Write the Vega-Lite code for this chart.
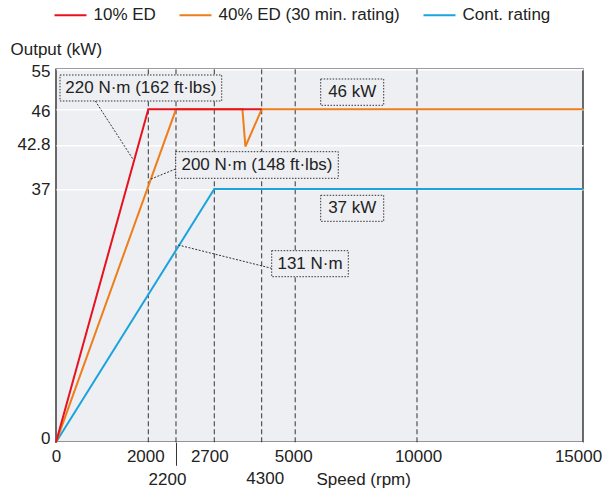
{
  "$schema": "https://vega.github.io/schema/vega-lite/v6.json",
  "autosize": {"type": "none"},
  "padding": {"left": 56, "top": 69.3, "right": 24.7, "bottom": 47.7},
  "width": 527,
  "height": 373,
  "background": "white",
  "config": {
    "view": {"fill": "#eeeff3", "stroke": "#3a3a3a", "strokeWidth": 1.5},
    "font": "Liberation Sans",
    "text": {"font": "Liberation Sans"}
  },
  "datasets": {
    "curves": [
      {"series": "Cont. rating", "speed": 0, "kw": 0, "ord": 1},
      {"series": "Cont. rating", "speed": 2700, "kw": 37, "ord": 2},
      {"series": "Cont. rating", "speed": 15000, "kw": 37, "ord": 3},
      {"series": "40% ED (30 min. rating)", "speed": 0, "kw": 0, "ord": 1},
      {"series": "40% ED (30 min. rating)", "speed": 2200, "kw": 46, "ord": 2},
      {"series": "40% ED (30 min. rating)", "speed": 3650, "kw": 46, "ord": 3},
      {"series": "40% ED (30 min. rating)", "speed": 3750, "kw": 42.6, "ord": 4},
      {"series": "40% ED (30 min. rating)", "speed": 4300, "kw": 46, "ord": 5},
      {"series": "40% ED (30 min. rating)", "speed": 15000, "kw": 46, "ord": 6},
      {"series": "10% ED", "speed": 0, "kw": 0, "ord": 1},
      {"series": "10% ED", "speed": 2000, "kw": 46, "ord": 2},
      {"series": "10% ED", "speed": 4300, "kw": 46, "ord": 3}
    ],
    "vlines": [
      {"speed": 2000}, {"speed": 2200}, {"speed": 2700}, {"speed": 4300}, {"speed": 5000}, {"speed": 10000}
    ],
    "boxes": [
      {"label": "220 N·m (162 ft·lbs)", "x1": 87, "x2": 2950, "y1": 53.72, "y2": 47.87, "xc": 1839, "yc": 50.8},
      {"label": "200 N·m (148 ft·lbs)", "x1": 2198, "x2": 6769, "y1": 41.92, "y2": 38.41, "xc": 4141, "yc": 40.16},
      {"label": "46 kW", "x1": 6047, "x2": 8633, "y1": 52.82, "y2": 46.9, "xc": 7340, "yc": 49.86},
      {"label": "37 kW", "x1": 6047, "x2": 8633, "y1": 36.08, "y2": 32.28, "xc": 7340, "yc": 34.18},
      {"label": "131 N·m", "x1": 4509, "x2": 7180, "y1": 27.99, "y2": 24.19, "xc": 5608, "yc": 26.09}
    ],
    "leaders": [
      {"id": "a", "speed": 852, "kw": 47.87},
      {"id": "a", "speed": 1669, "kw": 40.92},
      {"id": "b", "speed": 2198, "kw": 39.64},
      {"id": "b", "speed": 2019, "kw": 38.32},
      {"id": "c", "speed": 4509, "kw": 25.41},
      {"id": "c", "speed": 2230, "kw": 28.82}
    ]
  },
  "encoding": {
    "x": {
      "type": "quantitative",
      "scale": {
        "domain": [0, 2000, 2200, 2700, 4300, 5000, 10000, 15000],
        "range": [0, 92.3, 120, 158.3, 205.7, 239.2, 361, 527],
        "nice": false, "zero": false
      },
      "axis": {
        "values": [0, 2000, 2200, 2700, 4300, 5000, 10000, 15000],
        "title": "Speed (rpm)",
        "titleFont": "Liberation Sans", "titleFontSize": 17, "titleFontWeight": "normal", "titleColor": "#222",
        "titleAlign": "left", "titleBaseline": "middle", "titleX": 260, "titleY": 37, "titleAnchor": null,
        "labelFont": "Liberation Sans", "labelFontSize": 17, "labelColor": "#222",
        "labelExpr": "datum.value == 4300 ? ['', '' + datum.value] : '' + datum.value",
        "labelLineHeight": 22,
        "labelBaseline": "top",
        "labelPadding": 6,
        "labelOverlap": false,
        "labelFlush": false,
        "labelOffset": {
          "condition": [
            {"test": "datum.value == 2000", "value": -3},
            {"test": "datum.value == 2200", "value": -9},
            {"test": "datum.value == 2700", "value": -5},
            {"test": "datum.value == 4300", "value": 3},
            {"test": "datum.value == 5000", "value": -2},
            {"test": "datum.value == 10000", "value": 1},
            {"test": "datum.value == 15000", "value": -5}
          ],
          "value": 0
        },
        "domain": false, "grid": false,
        "ticks": true,
        "tickColor": "#333",
        "tickWidth": 1,
        "tickSize": {"condition": {"test": "datum.value == 2200", "value": 23}, "value": 0}
      }
    },
    "y": {
      "type": "quantitative",
      "scale": {
        "domain": [0, 37, 42.8, 46, 55],
        "range": [373, 119.7, 75.7, 40, 0],
        "nice": false, "zero": false
      },
      "axis": {
        "values": [0, 37, 42.8, 46, 55],
        "title": "Output (kW)",
        "titleFont": "Liberation Sans", "titleFontSize": 17, "titleFontWeight": "normal", "titleColor": "#222",
        "titleAngle": 0, "titleAlign": "left", "titleBaseline": "middle", "titleX": -46, "titleY": -19.5, "titleAnchor": null,
        "labelFont": "Liberation Sans", "labelFontSize": 17, "labelColor": "#222",
        "labelExpr": "'' + datum.value",
        "labelPadding": 6,
        "labelOverlap": false,
        "labelFlush": false,
        "labelOffset": {
          "condition": [
            {"test": "datum.value == 0", "value": -4},
            {"test": "datum.value == 55", "value": 2},
            {"test": "datum.value == 46", "value": 2},
            {"test": "datum.value == 42.8", "value": -1}
          ],
          "value": 0
        },
        "domain": false, "ticks": false,
        "grid": true, "gridColor": "#ffffff", "gridWidth": 1.5, "gridOpacity": 1
      }
    }
  },
  "layer": [
    {
      "data": {"name": "vlines"},
      "mark": {"type": "rule", "color": "#333", "strokeWidth": 1, "strokeDash": [5, 3]},
      "encoding": {"x": {"field": "speed"}, "y": null}
    },
    {
      "data": {"name": "curves"},
      "transform": [{"filter": "datum.series == 'Cont. rating'"}],
      "mark": {"type": "line", "strokeWidth": 2},
      "encoding": {
        "x": {"field": "speed"},
        "y": {"field": "kw"},
        "order": {"field": "ord", "type": "quantitative"},
        "color": {
          "field": "series", "type": "nominal",
          "scale": {"domain": ["10% ED", "40% ED (30 min. rating)", "Cont. rating"], "range": ["#e8121f", "#ef7d1a", "#1ba3de"]},
          "legend": {
            "title": null, "orient": "none", "direction": "horizontal",
            "legendX": -2.5, "legendY": -71,
            "symbolType": "stroke", "symbolSize": 1024, "symbolStrokeWidth": 2,
            "labelFont": "Liberation Sans", "labelFontSize": 17, "labelColor": "#222",
            "labelOffset": 6, "labelLimit": 400, "columnPadding": 19, "padding": 0,
            "gridAlign": "none"
          }
        }
      }
    },
    {
      "data": {"name": "curves"},
      "transform": [{"filter": "datum.series == '40% ED (30 min. rating)'"}],
      "mark": {"type": "line", "strokeWidth": 2},
      "encoding": {
        "x": {"field": "speed"},
        "y": {"field": "kw"},
        "order": {"field": "ord", "type": "quantitative"},
        "color": {"field": "series", "type": "nominal"}
      }
    },
    {
      "data": {"name": "curves"},
      "transform": [{"filter": "datum.series == '10% ED'"}],
      "mark": {"type": "line", "strokeWidth": 2},
      "encoding": {
        "x": {"field": "speed"},
        "y": {"field": "kw"},
        "order": {"field": "ord", "type": "quantitative"},
        "color": {"field": "series", "type": "nominal"}
      }
    },
    {
      "data": {"name": "leaders"},
      "mark": {"type": "line", "color": "#333", "strokeWidth": 1, "strokeDash": [2, 1.5]},
      "encoding": {
        "x": {"field": "speed"},
        "y": {"field": "kw"},
        "detail": {"field": "id"}
      }
    },
    {
      "data": {"name": "boxes"},
      "mark": {"type": "rect", "fill": "#eeeff3", "stroke": "#333", "strokeWidth": 1, "strokeDash": [1.5, 1.5]},
      "encoding": {
        "x": {"field": "x1"},
        "x2": {"field": "x2"},
        "y": {"field": "y1"},
        "y2": {"field": "y2"}
      }
    },
    {
      "data": {"name": "boxes"},
      "mark": {"type": "text", "font": "Liberation Sans", "fontSize": 17, "color": "#222", "align": "center", "baseline": "middle"},
      "encoding": {
        "x": {"field": "xc"},
        "y": {"field": "yc"},
        "text": {"field": "label"}
      }
    }
  ]
}
